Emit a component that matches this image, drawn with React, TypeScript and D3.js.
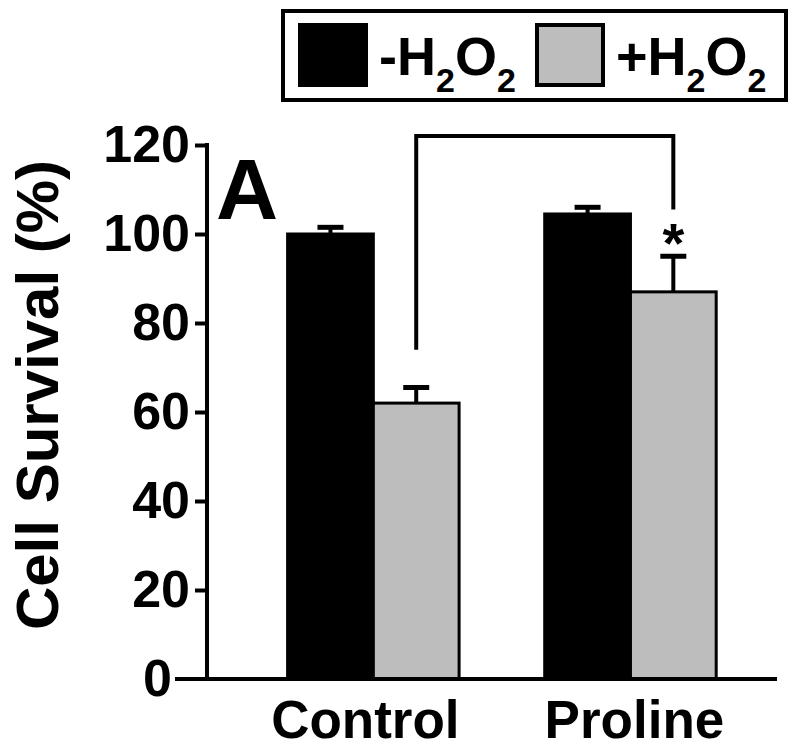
import React, { useEffect, useRef } from 'react';
import * as d3 from 'd3';

// Cell survival bar chart (panel A) with SEM error bars
const groups = ['Control', 'Proline'];
const seriesKeys = ['minus', 'plus'];
const seriesSigns = ['-', '+'];
const seriesFills = ['#000000', '#bdbdbd'];
const meanValues = [
  [100, 62],
  [104.5, 87],
];
const semValues = [
  [1.5, 3.5],
  [1.5, 8],
];
const yTicks = [0, 20, 40, 60, 80, 100, 120];
// significance bracket: from Control +H2O2 to Proline +H2O2
const bracketTop = 122;
const bracketLeftEnd = 74;
const bracketRightEnd = 105.5;

const FONT = '"Liberation Sans", Arial, Helvetica, sans-serif';

export default function App() {
  const ref = useRef<HTMLDivElement>(null);

  useEffect(() => {
    const el = ref.current;
    if (!el) return;
    while (el.firstChild) el.removeChild(el.firstChild);

    const W = 800;
    const H = 750;

    const svg = d3
      .create('svg')
      .attr('width', W)
      .attr('height', H)
      .attr('viewBox', [0, 0, W, H])
      .style('font-family', FONT)
      .style('font-weight', 'bold');

    const y = d3.scaleLinear().domain([0, 120]).range([679, 145]);
    const x0 = d3
      .scaleBand<string>()
      .domain(groups)
      .range([207, 777])
      .paddingInner(0.333)
      .paddingOuter(0.275)
      .align(0.57);
    const x1 = d3.scaleBand<string>().domain(seriesKeys).range([0, x0.bandwidth()]);
    const fill = d3.scaleOrdinal<string, string>().domain(seriesKeys).range(seriesFills);

    // bars
    const gGroup = svg
      .selectAll('g.grp')
      .data(groups)
      .join('g')
      .attr('class', 'grp')
      .attr('transform', (d) => `translate(${x0(d)},0)`);

    const rows = (gi: number) =>
      seriesKeys.map((k, si) => ({ key: k, v: meanValues[gi][si], e: semValues[gi][si] }));

    gGroup.each(function (g, gi) {
      const sel = d3.select(this);
      const data = rows(gi);
      sel
        .selectAll('rect')
        .data(data)
        .join('rect')
        .attr('x', (d) => x1(d.key)!)
        .attr('y', (d) => y(d.v))
        .attr('width', x1.bandwidth())
        .attr('height', (d) => y(0) - y(d.v))
        .attr('fill', (d) => fill(d.key))
        .attr('stroke', '#000')
        .attr('stroke-width', 3);

      // error bars (upper only)
      const eb = sel
        .selectAll('g.eb')
        .data(data)
        .join('g')
        .attr('class', 'eb')
        .attr('transform', (d) => `translate(${x1(d.key)! + x1.bandwidth() / 2},0)`);
      eb.append('line')
        .attr('y1', (d) => y(d.v))
        .attr('y2', (d) => y(d.v + d.e))
        .attr('stroke', '#000')
        .attr('stroke-width', 4);
      eb.append('line')
        .attr('x1', -13)
        .attr('x2', 13)
        .attr('y1', (d) => y(d.v + d.e))
        .attr('y2', (d) => y(d.v + d.e))
        .attr('stroke', '#000')
        .attr('stroke-width', 5);
    });

    // y axis
    const yAxis = svg
      .append('g')
      .attr('transform', 'translate(207,0)')
      .call(
        d3
          .axisLeft(y)
          .tickValues(yTicks)
          .tickSize(12)
          .tickPadding(5)
          .tickFormat(d3.format('d'))
      );
    yAxis.select('.domain').remove();
    yAxis.selectAll('.tick line').attr('stroke', '#000').attr('stroke-width', 4);
    yAxis
      .selectAll('.tick text')
      .attr('fill', '#000')
      .style('font-family', FONT)
      .style('font-size', '52px')
      .style('font-weight', 'bold');
    yAxis
      .selectAll('.tick')
      .filter((d) => d === 0)
      .select('text')
      .attr('x', -35);
    yAxis.selectAll('.tick').filter((d) => d === 0).select('line').remove();

    svg
      .append('line')
      .attr('x1', 207)
      .attr('x2', 207)
      .attr('y1', y(120) - 2)
      .attr('y2', y(0))
      .attr('stroke', '#000')
      .attr('stroke-width', 4);

    // x baseline
    svg
      .append('line')
      .attr('x1', 175)
      .attr('x2', 777)
      .attr('y1', y(0))
      .attr('y2', y(0))
      .attr('stroke', '#000')
      .attr('stroke-width', 4);

    // category labels
    svg
      .selectAll('text.cat')
      .data(groups)
      .join('text')
      .attr('class', 'cat')
      .attr('x', (d, i) => x0(d)! + x0.bandwidth() / 2 + (i === 0 ? -8 : 4))
      .attr('y', 738)
      .attr('text-anchor', 'middle')
      .attr('font-size', 53)
      .text((d) => d);

    // y label
    svg
      .append('text')
      .attr('transform', 'translate(58,395) rotate(-90)')
      .attr('text-anchor', 'middle')
      .attr('font-size', 60)
      .text('Cell Survival (%)');

    // panel letter
    svg.append('text').attr('x', 216).attr('y', 219).attr('font-size', 86).text('A');

    // significance bracket
    const bx1 = x0(groups[0])! + x1(seriesKeys[1])! + x1.bandwidth() / 2;
    const bx2 = x0(groups[1])! + x1(seriesKeys[1])! + x1.bandwidth() / 2;
    const path = d3.path();
    path.moveTo(bx1, y(bracketLeftEnd));
    path.lineTo(bx1, y(bracketTop));
    path.lineTo(bx2, y(bracketTop));
    path.lineTo(bx2, y(bracketRightEnd));
    svg
      .append('path')
      .attr('d', path.toString())
      .attr('fill', 'none')
      .attr('stroke', '#000')
      .attr('stroke-width', 4);
    svg
      .append('text')
      .attr('x', bx2)
      .attr('y', 262)
      .attr('text-anchor', 'middle')
      .attr('font-size', 56)
      .text('*');

    // legend
    const legend = svg.append('g');
    legend
      .append('rect')
      .attr('x', 283)
      .attr('y', 11)
      .attr('width', 503)
      .attr('height', 89)
      .attr('fill', '#fff')
      .attr('stroke', '#000')
      .attr('stroke-width', 4);
    const item = legend
      .selectAll('g.item')
      .data(seriesKeys)
      .join('g')
      .attr('class', 'item')
      .attr('transform', (d, i) => `translate(${299 + i * 237},0)`);
    item
      .append('rect')
      .attr('x', 1)
      .attr('y', 25)
      .attr('width', 66)
      .attr('height', 60)
      .attr('fill', (d) => fill(d))
      .attr('stroke', '#000')
      .attr('stroke-width', 4);
    const t = item.append('text').attr('x', 80).attr('y', 75).attr('font-size', 54);
    t.append('tspan').text((d, i) => `${seriesSigns[i]}H`);
    t.append('tspan').attr('font-size', 34).attr('dy', 17).text('2');
    t.append('tspan').attr('dy', -17).text('O');
    t.append('tspan').attr('font-size', 34).attr('dy', 17).text('2');

    el.appendChild(svg.node()!);
  }, []);

  return <div ref={ref} style={{ position: 'absolute', left: 0, top: 0, width: 800, height: 750 }} />;
}
